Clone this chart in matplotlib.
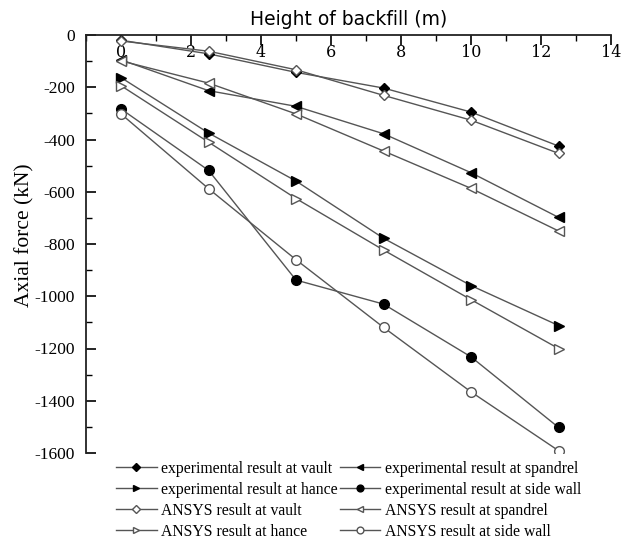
import numpy as np
import matplotlib.pyplot as plt
from matplotlib.ticker import MultipleLocator

plt.rcParams['axes.unicode_minus'] = False

height = [0, 2.5, 5, 7.5, 10, 12.5]

exp_vault = [-20, -72, -143, -203, -295, -425]
exp_spandrel = [-95, -213, -273, -378, -527, -698]
exp_hance = [-163, -375, -559, -778, -959, -1112]
exp_side = [-283, -518, -938, -1030, -1232, -1502]

ansys_vault = [-23, -62, -133, -231, -326, -453]
ansys_spandrel = [-99, -184, -302, -444, -587, -750]
ansys_hance = [-194, -410, -626, -823, -1013, -1200]
ansys_side = [-302, -588, -860, -1119, -1366, -1591]

fig = plt.figure(figsize=(6.25, 5.39), dpi=100)
ax = fig.add_axes([86 / 625, 1 - 453 / 539, 525 / 625, 418 / 539])

lc = '#555555'
kw = dict(color=lc, lw=1.0, markersize=7, markeredgewidth=1.0)
dkw = dict(color=lc, lw=1.0, markersize=5.5, markeredgewidth=1.0)

# experimental (filled)
l1, = ax.plot(height, exp_vault, marker='D', mfc='black', mec='black',
              label='experimental result at vault', **dkw)
l2, = ax.plot(height, exp_spandrel, marker='<', mfc='black', mec='black',
              label='experimental result at spandrel', **kw)
l3, = ax.plot(height, exp_hance, marker='>', mfc='black', mec='black',
              label='experimental result at hance', **kw)
l4, = ax.plot(height, exp_side, marker='o', mfc='black', mec='black',
              label='experimental result at side wall', **kw)

# ANSYS (open)
l5, = ax.plot(height, ansys_vault, marker='D', mfc='white', mec=lc,
              label='ANSYS result at vault', **dkw)
l6, = ax.plot(height, ansys_spandrel, marker='<', mfc='white', mec=lc,
              label='ANSYS result at spandrel', **kw)
l7, = ax.plot(height, ansys_hance, marker='>', mfc='white', mec=lc,
              label='ANSYS result at hance', **kw)
l8, = ax.plot(height, ansys_side, marker='o', mfc='white', mec=lc,
              label='ANSYS result at side wall', **kw)

ax.set_xlim(-1, 14)
ax.set_ylim(-1600, 0)
ax.xaxis.set_major_locator(MultipleLocator(2))
ax.xaxis.set_minor_locator(MultipleLocator(1))
ax.yaxis.set_major_locator(MultipleLocator(200))
ax.yaxis.set_minor_locator(MultipleLocator(100))

for s in ['bottom', 'right']:
    ax.spines[s].set_visible(False)
for s in ['top', 'left']:
    ax.spines[s].set_linewidth(1.3)
    ax.spines[s].set_color('#222222')

ax.xaxis.set_ticks_position('top')
ax.xaxis.set_label_position('top')
ax.tick_params(axis='x', which='major', direction='in', length=7, width=1.2,
               labeltop=True, labelbottom=False, pad=-19)
ax.tick_params(axis='x', which='minor', direction='in', length=4, width=1.0)
ax.tick_params(axis='y', which='major', direction='in', length=7, width=1.2, pad=8)
ax.tick_params(axis='y', which='minor', direction='in', length=4, width=1.0)
for t in ax.get_xticklabels():
    t.set_fontfamily('DejaVu Serif')
    t.set_fontsize(11.5)
for t in ax.get_yticklabels():
    t.set_fontfamily('Liberation Serif')
    t.set_fontsize(12.5)

ax.set_xlabel('Height of backfill (m)', fontsize=13.5, fontfamily='DejaVu Sans', labelpad=4)
ax.set_ylabel('Axial force (kN)', fontsize=15.5, fontfamily='Liberation Serif')
ax.yaxis.set_label_coords(-0.098, 0.52)

handles = [l1, l3, l5, l7, l2, l4, l6, l8]
fig.legend(handles=handles, labels=[h.get_label() for h in handles], ncol=2,
           loc='upper left', bbox_to_anchor=(108 / 625, 1 - 453 / 539), frameon=False,
           prop={'family': 'Liberation Serif', 'size': 11.3}, handlelength=2.6,
           handletextpad=0.3, columnspacing=0.1, labelspacing=0.32, borderpad=0,
           markerscale=0.7)

fig.savefig('out.png', dpi=100)
